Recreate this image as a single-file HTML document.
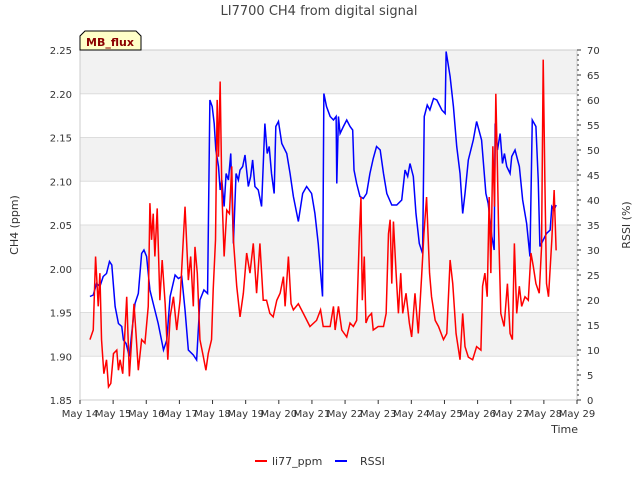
<!DOCTYPE html>
<html><head><meta charset="utf-8"><style>
body{margin:0;background:#fff;font-family:"Liberation Sans",sans-serif}
svg text{font-family:"DejaVu Sans","Liberation Sans",sans-serif}
</style></head><body>
<svg id="c" width="640" height="480" xmlns="http://www.w3.org/2000/svg">
<text x="319" y="15" text-anchor="middle" font-size="13" fill="#444">LI7700 CH4 from digital signal</text>
<text transform="translate(18,225) rotate(-90)" text-anchor="middle" font-size="11" fill="#333">CH4 (ppm)</text>
<text transform="translate(630,225) rotate(-90)" text-anchor="middle" font-size="11" fill="#333">RSSI (%)</text>
<text x="578" y="433" text-anchor="end" font-size="11" fill="#333">Time</text>
<g id="plot"></g>
<g>
<path d="M80,50 L80,36 L85,31 L136,31 L141,36 L141,50 Z" fill="#ffffc8" stroke="#000" stroke-width="1"/>
<text x="110" y="46" text-anchor="middle" font-size="11" font-weight="bold" fill="#8b0000">MB_flux</text>
</g>
<g>
<g><line x1="255" y1="461" x2="267" y2="461" stroke="#f00" stroke-width="2"/><text x="272" y="465" font-size="11" fill="#333">li77_ppm</text></g>
<g><line x1="335" y1="461" x2="347" y2="461" stroke="#00f" stroke-width="2"/><text x="360" y="465" font-size="11" fill="#333">RSSI</text></g>
</g>
</svg>
<script>
const xTickLabels=["May 14","May 15","May 16","May 17","May 18","May 19","May 20","May 21","May 22","May 23","May 24","May 25","May 26","May 27","May 28","May 29"];
const yTicks=[1.85,1.90,1.95,2.00,2.05,2.10,2.15,2.20,2.25];
const y2Ticks=[0,5,10,15,20,25,30,35,40,45,50,55,60,65,70];
const ch4Days=[0.30,0.40,0.47,0.55,0.60,0.65,0.72,0.80,0.86,0.93,1.01,1.11,1.16,1.21,1.29,1.41,1.49,1.56,1.63,1.69,1.76,1.86,1.96,2.06,2.11,2.16,2.21,2.26,2.33,2.41,2.48,2.57,2.65,2.72,2.82,2.92,3.02,3.17,3.27,3.34,3.42,3.47,3.54,3.62,3.72,3.80,3.87,3.97,4.02,4.09,4.14,4.18,4.23,4.28,4.35,4.43,4.51,4.58,4.63,4.73,4.83,4.93,5.03,5.13,5.23,5.33,5.43,5.53,5.63,5.73,5.83,5.94,6.04,6.14,6.19,6.29,6.37,6.44,6.59,6.74,6.94,7.14,7.26,7.34,7.55,7.65,7.70,7.80,7.90,8.05,8.15,8.25,8.35,8.43,8.48,8.52,8.58,8.63,8.70,8.80,8.85,9.00,9.16,9.24,9.31,9.36,9.41,9.46,9.54,9.61,9.68,9.74,9.84,9.94,10.01,10.11,10.21,10.31,10.38,10.46,10.55,10.61,10.72,10.82,10.97,11.07,11.17,11.25,11.35,11.47,11.55,11.62,11.72,11.85,11.97,12.10,12.15,12.22,12.29,12.35,12.40,12.46,12.51,12.55,12.59,12.63,12.70,12.80,12.90,12.98,13.05,13.11,13.18,13.26,13.33,13.43,13.53,13.61,13.68,13.76,13.86,13.93,13.98,14.03,14.08,14.14,14.24,14.31,14.37];
const ch4Vals=[1.919,1.93,2.014,1.957,1.995,1.919,1.88,1.896,1.865,1.869,1.903,1.907,1.884,1.896,1.88,1.968,1.877,1.919,1.96,1.926,1.884,1.919,1.915,1.957,2.075,2.033,2.063,2.014,2.069,1.964,2.01,1.96,1.896,1.945,1.968,1.93,1.964,2.071,1.987,2.014,1.957,2.025,1.995,1.919,1.9,1.884,1.903,1.919,1.976,2.033,2.193,2.128,2.214,2.09,2.014,2.067,2.063,2.117,2.033,1.98,1.945,1.972,2.018,1.995,2.029,1.972,2.029,1.964,1.964,1.949,1.945,1.964,1.972,1.991,1.957,2.014,1.96,1.953,1.96,1.949,1.934,1.941,1.953,1.934,1.934,1.957,1.93,1.957,1.93,1.922,1.938,1.934,1.941,2.037,2.082,1.964,2.014,1.938,1.945,1.949,1.93,1.934,1.934,1.949,2.04,2.056,1.983,2.054,1.995,1.949,1.995,1.949,1.972,1.938,1.922,1.972,1.926,1.991,2.04,2.082,1.995,1.968,1.941,1.934,1.919,1.926,2.01,1.983,1.926,1.896,1.949,1.911,1.899,1.896,1.911,1.907,1.98,1.995,1.968,2.082,1.995,2.14,2.071,2.2,2.132,2.052,1.949,1.934,1.983,1.926,1.919,2.029,1.949,1.98,1.957,1.968,1.964,2.018,2.003,1.983,1.972,2.025,2.239,2.101,1.983,1.968,2.033,2.09,2.021];
const rssiDays=[0.30,0.40,0.50,0.60,0.70,0.80,0.89,0.96,1.06,1.16,1.26,1.31,1.39,1.49,1.56,1.66,1.76,1.86,1.93,2.01,2.11,2.21,2.36,2.52,2.62,2.72,2.87,2.97,3.07,3.17,3.27,3.42,3.52,3.62,3.74,3.85,3.92,3.99,4.05,4.10,4.18,4.23,4.28,4.35,4.41,4.48,4.55,4.63,4.71,4.78,4.83,4.91,4.98,5.08,5.15,5.21,5.28,5.38,5.48,5.58,5.65,5.71,5.78,5.86,5.91,5.99,6.09,6.24,6.34,6.44,6.59,6.72,6.84,6.99,7.09,7.19,7.32,7.36,7.44,7.55,7.65,7.73,7.75,7.80,7.85,7.95,8.05,8.15,8.23,8.27,8.35,8.45,8.55,8.65,8.75,8.85,8.95,9.06,9.16,9.26,9.41,9.56,9.71,9.81,9.89,9.96,10.06,10.14,10.24,10.34,10.39,10.48,10.56,10.67,10.77,10.92,11.02,11.05,11.17,11.27,11.37,11.47,11.55,11.62,11.72,11.87,11.97,12.12,12.25,12.32,12.43,12.50,12.53,12.60,12.68,12.75,12.81,12.88,12.98,13.03,13.13,13.26,13.36,13.48,13.58,13.65,13.76,13.83,13.88,13.98,14.08,14.19,14.24,14.31,14.37];
const rssiVals=[20.7,21,23.3,22.7,24.7,25.3,27.7,27,18.7,15.3,14.7,12,11.3,8.7,13.3,19.3,21.3,29.3,30,28.7,22,19.3,15.3,10,12,20.7,25,24.3,24.7,18,10,9,8,20,22,21.3,60,58.7,55.3,50,46.7,42,44,38.7,45.3,44,49.3,31.3,45.3,44,46,46.7,49,42.7,44.7,48,42.7,42,38.7,55.3,49.3,50.7,45.3,41.3,54.7,55.7,51.3,49.3,45.3,40.7,35.7,41.3,42.7,41.3,37.3,31.3,20.7,61.3,58.7,56.7,56,56.7,43.3,56.7,53.3,54.7,56,54.7,54,46,43.3,40.7,40.3,41.3,45.3,48.3,50.7,50,45.3,41.3,39,39,40,46,44.7,47.3,44.7,37.3,31.3,29.3,56.7,59,58,60.3,60,58,57.3,69.7,64.7,58.7,50.7,45.3,37.3,41.3,48,52,55.7,52,41.3,39.3,32.7,30,55.3,50,53.3,47.3,49.3,46.7,45.3,48.7,50,46.7,40,35.3,28.7,56,54.7,44,30.7,32,33.3,34,38.7,38,39];

const L=80,R=577,T=50,B=400;
const x=d=>L+d*(R-L)/15;
const y=v=>B-(v-1.85)*(B-T)/0.40;
const y2=v=>B-v*(B-T)/70;
const NS="http://www.w3.org/2000/svg";
const g=document.getElementById('plot');
function mk(tag,attrs){const e=document.createElementNS(NS,tag);for(const k in attrs)e.setAttribute(k,attrs[k]);g.appendChild(e);return e;}
for(let i=0;i<yTicks.length-1;i++){
  if(i%2===1){const r=mk('rect',{x:L,y:y(yTicks[i+1]),width:R-L,height:y(yTicks[i])-y(yTicks[i+1]),fill:'#f2f2f2'});
  
  }
}
yTicks.forEach(v=>{
  const l=mk('line',{x1:L,x2:R,y1:y(v),y2:y(v),stroke:'#ddd','stroke-width':1});
  
  
  const t=mk('text',{x:L-8,y:y(v)+4,'text-anchor':'end','font-size':10,fill:'#333'});
  
  
  t.textContent=v.toFixed(2);
});
const fr=mk('rect',{x:L,y:T,width:R-L,height:B-T,fill:'none',stroke:'#ccc'});


xTickLabels.forEach((s,i)=>{
  mk('line',{x1:x(i),x2:x(i),y1:B,y2:B+4,stroke:'#333'});
  const t=mk('text',{x:x(i),y:B+17,'text-anchor':'middle','font-size':10,fill:'#333'});
  
  
  t.textContent=s;
});
for(let v=0;v<=70;v++){mk('line',{x1:R,x2:R+(v%5===0?4:2),y1:y2(v),y2:y2(v),stroke:'#333'});}
y2Ticks.forEach(v=>{
  const t=mk('text',{x:R+10,y:y2(v)+4,'font-size':10,fill:'#333'});
  
  
  t.textContent=v;
});
const rp=mk('polyline',{points:rssiDays.map((d,i)=>x(d)+','+y2(rssiVals[i])).join(' '),fill:'none',stroke:'#00f','stroke-width':1.5});


const cp=mk('polyline',{points:ch4Days.map((d,i)=>x(d)+','+y(ch4Vals[i])).join(' '),fill:'none',stroke:'#f00','stroke-width':1.5});


</script>
</body></html>
